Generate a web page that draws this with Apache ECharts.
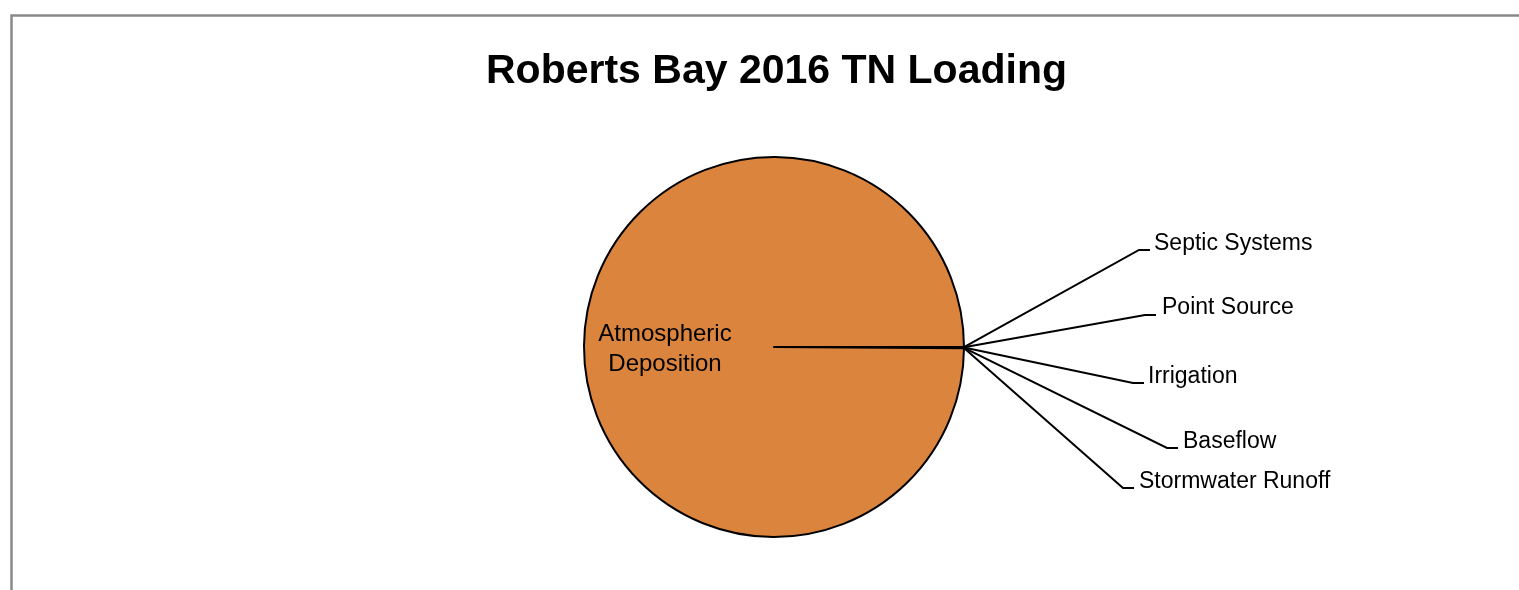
<!DOCTYPE html>
<html>
<head>
<meta charset="utf-8">
<script src="https://cdn.jsdelivr.net/npm/echarts@6/dist/echarts.min.js"></script>
<style>
	html, body { margin: 0; padding: 0; background: #fff; }
	#chart { width: 1519px; height: 590px; }
</style>
</head>
<body>
<div id="chart"></div>
<script>
// data
var sources = ['Septic Systems', 'Point Source', 'Irrigation', 'Baseflow', 'Stormwater Runoff', 'Atmospheric Deposition'];
var loads = [0.2, 0.2, 0.2, 0.2, 0.2, 999];

// label placement (leader line bend point, label anchor)
var bendPts = [[1139, 250], [1145, 315], [1133, 383], [1167, 448], [1123, 488]];
var labelPts = [[1154, 244], [1162, 308], [1148, 377], [1183, 442], [1139, 482]];

var chart = echarts.init(document.getElementById('chart'));

var option = {
	animation: false,
	title: {
		text: 'Roberts Bay 2016 TN Loading',
		left: 481,
		top: 46,
		textStyle: {
			fontFamily: 'Liberation Sans',
			fontSize: 41,
			fontWeight: 'bold',
			color: '#000'
		}
	},
	graphic: [
		{
			type: 'rect',
			left: 9,
			top: 13,
			shape: { width: 3000, height: 3000 },
			style: { fill: 'none', stroke: '#898989', lineWidth: 2.5 },
			silent: true
		}
	],
	series: [
		{
			type: 'pie',
			center: [774, 347],
			radius: 190,
			startAngle: 0,
			clockwise: true,
			avoidLabelOverlap: false,
			itemStyle: {
				color: '#DA843D',
				borderColor: '#000',
				borderWidth: 2
			},
			label: {
				show: true,
				color: '#000',
				fontFamily: 'Liberation Sans',
				fontSize: 23
			},
			labelLine: {
				show: true,
				length: 20,
				length2: 10,
				lineStyle: { color: '#000', width: 2 }
			},
			labelLayout: function (params) {
				var i = params.dataIndex;
				if (i >= bendPts.length) {
					return { x: 665, y: 349, align: 'center', verticalAlign: 'middle' };
				}
				var start = params.labelLinePoints ? params.labelLinePoints[0] : [964, 347];
				return {
					x: labelPts[i][0],
					y: labelPts[i][1],
					align: 'left',
					verticalAlign: 'middle',
					labelLinePoints: [
						start,
						bendPts[i],
						[bendPts[i][0] + 11, bendPts[i][1]]
					]
				};
			},
			data: sources.map(function (name, i) {
				var item = { name: name, value: loads[i] };
				if (i == sources.length - 1) {
					item.name = 'Atmospheric\nDeposition';
					item.label = { position: 'inside', lineHeight: 30, fontSize: 24 };
					item.labelLine = { show: false };
				}
				return item;
			})
		}
	]
};
chart.setOption(option);
</script>
</body>
</html>
